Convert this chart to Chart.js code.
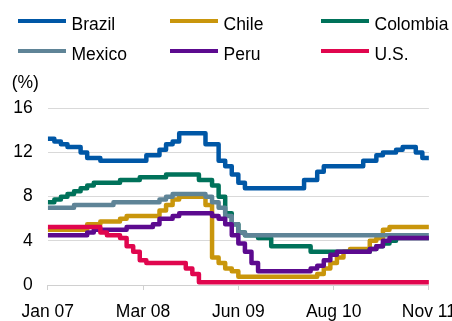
<!DOCTYPE html>
<html>
<head>
<meta charset="utf-8">
<script src="https://cdn.jsdelivr.net/npm/chart.js@4.4.0/dist/chart.umd.min.js"></script>
<style>
html, body { margin: 0; padding: 0; overflow: hidden; background: #fff; }
#wrap { position: relative; width: 452px; height: 321px; overflow: hidden; }
#chart { position: absolute; left: -15.3px; top: 0; }
.lbl { position: absolute; height: 20px; line-height: 20px; font: 17.5px "Liberation Sans", Arial, sans-serif; color: #000; white-space: nowrap; }
.item .sw { position: absolute; left: 0; top: 5.5px; width: 48px; height: 4px; }
.item .t { position: absolute; left: 53.5px; top: 0; line-height: 20px; }
</style>
</head>
<body>
<div id="wrap">
  <canvas id="chart" width="483" height="322"></canvas>
  <div id="legend"></div>
  <div class="lbl" id="unit" style="left:11.7px; top:71.5px;">(%)</div>
</div>
<script>
// monthly policy rates, Jan 07 .. Nov 11
const tickLabels = ["Jan 07", "Mar 08", "Jun 09", "Aug 10", "Nov 11"];
const names = ["Brazil", "Chile", "Colombia", "Mexico", "Peru", "U.S."];

const brazil = [13.25, 13.0, 12.75, 12.5, 12.5, 12.0, 11.5, 11.5, 11.25, 11.25,
  11.25, 11.25, 11.25, 11.25, 11.25, 11.75, 11.75, 12.25, 12.75, 13.0,
  13.75, 13.75, 13.75, 13.75, 12.75, 12.75, 11.25, 10.75, 10.0, 9.25,
  8.75, 8.75, 8.75, 8.75, 8.75, 8.75, 8.75, 8.75, 8.75, 9.5,
  9.5, 10.25, 10.75, 10.75, 10.75, 10.75, 10.75, 10.75, 11.25, 11.25,
  11.75, 12.0, 12.0, 12.25, 12.5, 12.5, 12.0, 11.5, 11.5];
const chile = [5.0, 5.0, 5.0, 5.0, 5.0, 5.0, 5.5, 5.5, 5.75, 5.75,
  5.75, 6.0, 6.25, 6.25, 6.25, 6.25, 6.25, 6.75, 7.25, 7.75,
  8.0, 8.0, 8.0, 8.0, 7.25, 2.5, 2.0, 1.5, 1.25, 0.75,
  0.75, 0.75, 0.75, 0.75, 0.75, 0.75, 0.75, 0.75, 0.75, 0.75,
  0.75, 1.0, 1.5, 2.0, 2.5, 3.0, 3.25, 3.25, 3.25, 4.0,
  4.25, 5.0, 5.25, 5.25, 5.25, 5.25, 5.25, 5.25, 5.25];
const colombia = [7.5, 7.75, 8.0, 8.25, 8.5, 8.75, 9.0, 9.25, 9.25, 9.25,
  9.25, 9.5, 9.5, 9.5, 9.75, 9.75, 9.75, 9.75, 10.0, 10.0,
  10.0, 10.0, 10.0, 9.5, 9.5, 9.0, 8.0, 6.5, 5.5, 4.75,
  4.5, 4.5, 4.25, 4.25, 3.5, 3.5, 3.5, 3.5, 3.5, 3.5,
  3.0, 3.0, 3.0, 3.0, 3.0, 3.0, 3.0, 3.0, 3.0, 3.25,
  3.5, 3.75, 4.0, 4.25, 4.25, 4.25, 4.25, 4.25, 4.25];
const mexico = [7.0, 7.0, 7.0, 7.0, 7.25, 7.25, 7.25, 7.25, 7.25, 7.25,
  7.5, 7.5, 7.5, 7.5, 7.5, 7.5, 7.5, 7.75, 8.0, 8.25,
  8.25, 8.25, 8.25, 8.25, 8.0, 7.5, 7.0, 6.25, 5.5, 4.75,
  4.5, 4.5, 4.5, 4.5, 4.5, 4.5, 4.5, 4.5, 4.5, 4.5,
  4.5, 4.5, 4.5, 4.5, 4.5, 4.5, 4.5, 4.5, 4.5, 4.5,
  4.5, 4.5, 4.5, 4.5, 4.5, 4.5, 4.5, 4.5, 4.5];
const peru = [4.5, 4.5, 4.5, 4.5, 4.5, 4.5, 4.75, 5.0, 5.0, 5.0,
  5.0, 5.0, 5.25, 5.25, 5.25, 5.25, 5.5, 6.0, 6.0, 6.25,
  6.5, 6.5, 6.5, 6.5, 6.5, 6.25, 6.0, 5.5, 4.5, 3.75,
  3.0, 2.0, 1.25, 1.25, 1.25, 1.25, 1.25, 1.25, 1.25, 1.25,
  1.5, 1.75, 2.25, 2.75, 3.0, 3.0, 3.0, 3.0, 3.0, 3.25,
  3.5, 4.0, 4.25, 4.25, 4.25, 4.25, 4.25, 4.25, 4.25];
const us = [5.25, 5.25, 5.25, 5.25, 5.25, 5.25, 5.25, 5.25, 4.75, 4.5,
  4.5, 4.25, 3.5, 3.0, 2.25, 2.0, 2.0, 2.0, 2.0, 2.0,
  2.0, 1.5, 1.0, 0.25, 0.25, 0.25, 0.25, 0.25, 0.25, 0.25,
  0.25, 0.25, 0.25, 0.25, 0.25, 0.25, 0.25, 0.25, 0.25, 0.25,
  0.25, 0.25, 0.25, 0.25, 0.25, 0.25, 0.25, 0.25, 0.25, 0.25,
  0.25, 0.25, 0.25, 0.25, 0.25, 0.25, 0.25, 0.25, 0.25];

const colors = ["#0057a6", "#c9960c", "#00725a", "#5f8497", "#5c0a8f", "#e0064e"];
const series = [brazil, chile, colombia, mexico, peru, us];
const lastMonth = brazil.length - 1;

// legend: 3 columns, 2 rows
const legendCols = [18, 170, 321];
const legendRows = [13.85, 43.85];
const legend = document.getElementById("legend");
names.forEach((n, k) => {
  const item = document.createElement("div");
  item.className = "lbl item";
  item.style.left = legendCols[k % 3] + "px";
  item.style.top = legendRows[Math.floor(k / 3)] + "px";
  item.innerHTML = '<span class="sw" style="background:' + colors[k] + '"></span><span class="t">' + n + '</span>';
  legend.appendChild(item);
});

Chart.defaults.font.family = '"Liberation Sans", Arial, sans-serif';
Chart.defaults.font.size = 17.5;
Chart.defaults.color = "#000";

const chart = new Chart(document.getElementById("chart"), {
  type: "line",
  data: {
    datasets: series.map((s, k) => ({
      label: names[k],
      data: s.map((v, i) => ({ x: i, y: v })),
      borderColor: colors[k],
      backgroundColor: colors[k],
      borderWidth: 4.5,
      borderJoinStyle: "round",
      pointRadius: 0,
      stepped: true,
      fill: false,
      order: series.length - k
    }))
  },
  options: {
    responsive: false,
    animation: false,
    layout: { padding: { top: 108.3, left: 13.3, right: 0, bottom: -13 } },
    plugins: {
      legend: { display: false },
      tooltip: { enabled: false }
    },
    scales: {
      x: {
        type: "linear",
        min: 0,
        max: lastMonth,
        afterBuildTicks: axis => {
          axis.ticks = tickLabels.map((t, i) => ({ value: i * lastMonth / (tickLabels.length - 1) }));
        },
        ticks: {
          callback: (v, i) => tickLabels[i],
          autoSkip: false,
          maxRotation: 0,
          padding: 12
        },
        grid: { drawOnChartArea: false, drawTicks: true, tickLength: 5, color: "#d0d0d0" },
        border: { color: "#d0d0d0", width: 1 }
      },
      y: {
        min: 0,
        max: 16,
        ticks: { stepSize: 4, padding: 15 },
        grid: { drawTicks: false, color: "#d9d9d9" },
        border: { display: false }
      }
    }
  }
});
</script>
</body>
</html>
